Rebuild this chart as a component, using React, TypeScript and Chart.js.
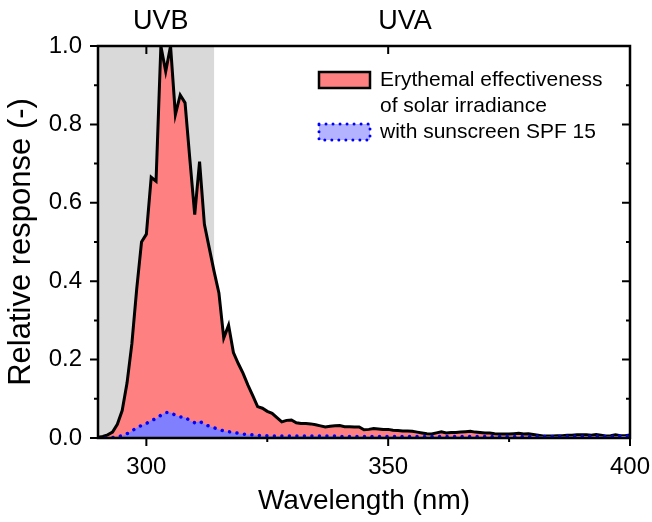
import React, { useEffect, useRef } from "react";
import { Chart, registerables } from "chart.js";

Chart.register(...registerables);

// Wavelength (nm)
const wavelengths = [
  290, 291, 292, 293, 294, 295, 296, 297, 298, 299,
  300, 301, 302, 303, 304, 305, 306, 307, 308, 309,
  310, 311, 312, 313, 314, 315, 316, 317, 318, 319,
  320, 321, 322, 323, 324, 325, 326, 327, 328, 329,
  330, 331, 332, 333, 334, 335, 336, 337, 338, 339,
  340, 341, 342, 343, 344, 345, 346, 347, 348, 349,
  350, 351, 352, 353, 354, 355, 356, 357, 358, 359,
  360, 361, 362, 363, 364, 365, 366, 367, 368, 369,
  370, 371, 372, 373, 374, 375, 376, 377, 378, 379,
  380, 381, 382, 383, 384, 385, 386, 387, 388, 389,
  390, 391, 392, 393, 394, 395, 396, 397, 398, 399,
  400,
];

// Erythemal effectiveness of solar irradiance
const erythemal = [
  0.002, 0.004, 0.008, 0.015, 0.035, 0.07, 0.14, 0.24, 0.38, 0.5,
  0.52, 0.665, 0.655, 1.0, 0.935, 1.0, 0.825, 0.875, 0.855, 0.71,
  0.57, 0.705, 0.545, 0.485, 0.425, 0.37, 0.255, 0.288, 0.218, 0.19,
  0.165, 0.135, 0.108, 0.08, 0.076, 0.068, 0.063, 0.052, 0.041, 0.045,
  0.046, 0.039, 0.037, 0.037, 0.036, 0.034, 0.031, 0.028, 0.03, 0.031,
  0.032, 0.029, 0.029, 0.028, 0.028, 0.021, 0.022, 0.024, 0.023, 0.022,
  0.022, 0.02, 0.019, 0.018, 0.018, 0.017, 0.015, 0.013, 0.011, 0.01,
  0.013, 0.016, 0.013, 0.014, 0.014, 0.015, 0.016, 0.017, 0.015, 0.014,
  0.013, 0.013, 0.011, 0.01, 0.01, 0.01, 0.011, 0.012, 0.01, 0.011,
  0.009, 0.007, 0.005, 0.005, 0.005, 0.006, 0.006, 0.007, 0.007, 0.008,
  0.008, 0.008, 0.007, 0.009, 0.007, 0.005, 0.006, 0.008, 0.006, 0.006,
  0.008,
];

// With sunscreen SPF 15
const sunscreen = [
  0.0, 0.0, 0.0, 0.001, 0.003, 0.006, 0.011, 0.018, 0.026, 0.032,
  0.037, 0.045, 0.049, 0.058, 0.065, 0.065, 0.058, 0.054, 0.053, 0.044,
  0.039, 0.043, 0.035, 0.03, 0.026, 0.022, 0.018, 0.016, 0.014, 0.012,
  0.01, 0.009, 0.008, 0.007, 0.006, 0.006, 0.005, 0.005, 0.005, 0.005,
  0.005, 0.005, 0.005, 0.005, 0.005, 0.005, 0.005, 0.005, 0.005, 0.005,
  0.004, 0.004, 0.004, 0.004, 0.004, 0.004, 0.004, 0.004, 0.004, 0.004,
  0.004, 0.004, 0.004, 0.004, 0.004, 0.004, 0.004, 0.004, 0.004, 0.004,
  0.004, 0.004, 0.004, 0.004, 0.004, 0.004, 0.004, 0.004, 0.004, 0.004,
  0.004, 0.004, 0.004, 0.004, 0.004, 0.004, 0.004, 0.004, 0.004, 0.004,
  0.004, 0.004, 0.004, 0.004, 0.004, 0.004, 0.004, 0.004, 0.004, 0.004,
  0.004, 0.004, 0.004, 0.004, 0.004, 0.004, 0.004, 0.004, 0.005, 0.005,
  0.005,
];

const xMajorTicks = [300, 350, 400];
const xMinorTicks = [325, 375];
const yMajorTicks = [0, 0.2, 0.4, 0.6, 0.8, 1.0];
const yMinorTicks = [0.1, 0.3, 0.5, 0.7, 0.9];
const uvbRange = [290, 314];
const bandLabels = [
  { text: "UVB", at: 303 },
  { text: "UVA", at: 353.5 },
];
const legendLabels = [
  ["Erythemal effectiveness", "of solar irradiance"],
  ["with sunscreen SPF 15"],
];

const FONT = "'Liberation Sans', Arial, sans-serif";

const decorPlugin = {
  id: "decor",
  beforeDatasetsDraw(chart: any) {
    const { ctx, chartArea, scales } = chart;
    const x = scales.x;
    const x0 = x.getPixelForValue(uvbRange[0]);
    const x1 = x.getPixelForValue(uvbRange[1]);
    ctx.save();
    ctx.fillStyle = "#d9d9d9";
    ctx.fillRect(x0, chartArea.top, x1 - x0, chartArea.bottom - chartArea.top);
    ctx.restore();
  },
  afterDraw(chart: any) {
    const { ctx, chartArea, scales } = chart;
    const { left, right, top, bottom } = chartArea;
    const x = scales.x;
    const y = scales.y;
    ctx.save();
    ctx.strokeStyle = "#000";
    ctx.lineWidth = 2.5;
    ctx.lineCap = "butt";
    // frame
    ctx.beginPath();
    ctx.moveTo(left, top);
    ctx.lineTo(right, top);
    ctx.lineTo(right, bottom);
    ctx.lineTo(left, bottom);
    ctx.closePath();
    ctx.stroke();
    ctx.lineWidth = 2;
    ctx.beginPath();
    // bottom ticks (outward) and top majors (inward)
    xMajorTicks.forEach((v) => {
      const px = x.getPixelForValue(v);
      ctx.moveTo(px, bottom);
      ctx.lineTo(px, bottom + 8);
      ctx.moveTo(px, top);
      ctx.lineTo(px, top + 8);
    });
    xMinorTicks.forEach((v) => {
      const px = x.getPixelForValue(v);
      ctx.moveTo(px, bottom);
      ctx.lineTo(px, bottom + 4);
    });
    // left ticks (outward) and right ticks (inward)
    yMajorTicks.forEach((v) => {
      const py = y.getPixelForValue(v);
      ctx.moveTo(left, py);
      ctx.lineTo(left - 8, py);
      ctx.moveTo(right, py);
      ctx.lineTo(right - 8, py);
    });
    yMinorTicks.forEach((v) => {
      const py = y.getPixelForValue(v);
      ctx.moveTo(left, py);
      ctx.lineTo(left - 4, py);
      ctx.moveTo(right, py);
      ctx.lineTo(right - 4, py);
    });
    ctx.stroke();

    // band labels
    ctx.fillStyle = "#000";
    ctx.font = `27px ${FONT}`;
    ctx.textAlign = "center";
    ctx.textBaseline = "middle";
    bandLabels.forEach((b) => {
      ctx.fillText(b.text, x.getPixelForValue(b.at), top - 24);
    });

    // legend
    const bx = left + 221;
    const bw = 51;
    const bh = 16;
    const ly1 = top + 34;
    const lineGap = 26;
    ctx.font = `21px ${FONT}`;
    ctx.textAlign = "left";
    // red box
    ctx.fillStyle = "#ff8080";
    ctx.fillRect(bx, ly1 - bh / 2, bw, bh);
    ctx.strokeStyle = "#000";
    ctx.lineWidth = 2.5;
    ctx.strokeRect(bx, ly1 - bh / 2, bw, bh);
    ctx.fillStyle = "#000";
    legendLabels[0].forEach((t, i) => ctx.fillText(t, bx + bw + 10, ly1 + i * lineGap));
    // blue box
    const ly2 = ly1 + 2 * lineGap;
    ctx.fillStyle = "#b3b3ff";
    ctx.fillRect(bx, ly2 - bh / 2, bw, bh);
    ctx.strokeStyle = "#0000ff";
    ctx.lineWidth = 3;
    ctx.lineCap = "round";
    ctx.setLineDash([0.01, 7]);
    ctx.strokeRect(bx, ly2 - bh / 2, bw, bh);
    ctx.setLineDash([]);
    ctx.fillStyle = "#000";
    legendLabels[1].forEach((t, i) => ctx.fillText(t, bx + bw + 10, ly2 + i * lineGap));
    ctx.restore();
  },
};

export default function App() {
  const ref = useRef<HTMLCanvasElement | null>(null);
  useEffect(() => {
    if (!ref.current) return;
    const chart = new Chart(ref.current, {
      type: "line",
      data: {
        datasets: [
          {
            label: "with sunscreen SPF 15",
            data: wavelengths.map((w, i) => ({ x: w, y: sunscreen[i] })),
            borderColor: "#0000ff",
            backgroundColor: "#8080ff",
            borderWidth: 3.5,
            borderDash: [0.01, 7.5],
            borderCapStyle: "round",
            fill: "origin",
            pointRadius: 0,
            tension: 0,
          },
          {
            label: "Erythemal effectiveness of solar irradiance",
            data: wavelengths.map((w, i) => ({ x: w, y: erythemal[i] })),
            borderColor: "#000",
            backgroundColor: "#ff8080",
            borderWidth: 3,
            borderJoinStyle: "miter",
            fill: "origin",
            pointRadius: 0,
            tension: 0,
          },
        ],
      },
      options: {
        animation: false,
        responsive: false,
        layout: { padding: { top: 46, right: 22, left: 0, bottom: 0 } },
        plugins: {
          legend: { display: false },
          tooltip: { enabled: false },
        },
        scales: {
          x: {
            type: "linear",
            min: 290,
            max: 400,
            grid: { display: false },
            border: { display: false },
            afterBuildTicks: (s: any) => {
              s.ticks = xMajorTicks.map((v) => ({ value: v }));
            },
            afterFit: (s: any) => {
              s.height = 84;
              s.paddingRight = 0;
              s.paddingLeft = 0;
            },
            ticks: {
              color: "#000",
              font: { family: FONT, size: 24 },
              padding: 7,
              maxRotation: 0,
              autoSkip: false,
            },
            title: {
              display: true,
              text: "Wavelength (nm)",
              color: "#000",
              font: { family: FONT, size: 28, lineHeight: 1 },
              padding: { top: 0, bottom: 7 },
            },
          },
          y: {
            type: "linear",
            min: 0,
            max: 1,
            grid: { display: false },
            border: { display: false },
            afterBuildTicks: (s: any) => {
              s.ticks = yMajorTicks.map((v) => ({ value: v }));
            },
            afterFit: (s: any) => {
              s.width = 98;
            },
            ticks: {
              color: "#000",
              font: { family: FONT, size: 24 },
              padding: 8,
              callback: (v: any) => Number(v).toFixed(1),
            },
            title: {
              display: true,
              text: "Relative response (-)",
              color: "#000",
              font: { family: FONT, size: 31, lineHeight: 1.2 },
              padding: { top: 3, bottom: 0 },
            },
          },
        },
      },
      plugins: [decorPlugin],
    });
    return () => chart.destroy();
  }, []);
  return (
    <div style={{ position: "absolute", left: 0, top: 0, width: 652, height: 522 }}>
      <canvas ref={ref} width={652} height={522} />
    </div>
  );
}
